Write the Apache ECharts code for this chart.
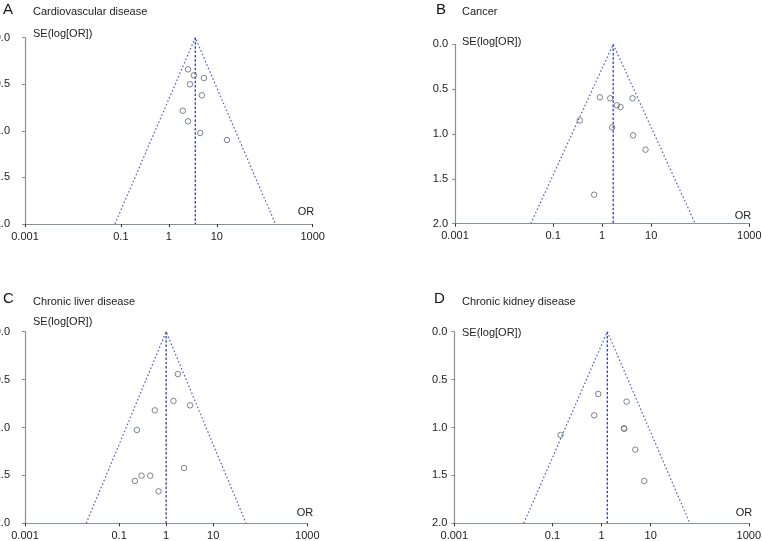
<!DOCTYPE html>
<html><head><meta charset="utf-8">
<script src="https://cdn.jsdelivr.net/npm/echarts@6/dist/echarts.min.js"></script>
<style>html,body{margin:0;padding:0;background:#fff}#c{width:762px;height:541px}</style>
</head><body><div id="c"></div>
<script>
// ---- data ----
const panelLetters = ['A', 'B', 'C', 'D'];
const panelTitles = ['Cardiovascular disease', 'Cancer', 'Chronic liver disease', 'Chronic kidney disease'];
const xTickValues = [0.001, 0.1, 1, 10, 1000];
const yTickValues = [0, 0.5, 1, 1.5, 2];

const orA = [2.51, 3.34, 5.37, 2.76, 4.89, 1.95, 2.51, 4.51, 16.3];
const seA = [0.34, 0.404, 0.433, 0.50, 0.619, 0.784, 0.898, 1.023, 1.098];

const orB = [0.90, 1.46, 4.16, 1.99, 2.37, 0.35, 1.60, 4.29, 7.66, 0.687];
const seB = [0.591, 0.602, 0.602, 0.680, 0.699, 0.848, 0.926, 1.015, 1.175, 1.677];

const orC = [1.77, 1.43, 3.22, 0.575, 0.239, 2.40, 0.30, 0.458, 0.217, 0.689];
const seC = [0.442, 0.723, 0.769, 0.821, 1.026, 1.423, 1.503, 1.503, 1.558, 1.666];

const orD = [0.855, 3.24, 0.708, 2.86, 2.90, 0.146, 4.87, 7.43];
const seD = [0.650, 0.730, 0.873, 1.009, 1.013, 1.078, 1.231, 1.558];

const pooledOR = [3.56, 1.68, 1.0, 1.31];
const funnelLow = [0.075, 0.035, 0.020, 0.026];
const funnelHigh = [167, 79, 50, 63];
const seMax = 2;

const orAll = [orA, orB, orC, orD];
const seAll = [seA, seB, seC, seD];

// ---- layout ----
const grids = [
  {left: 25, top: 37.7, width: 287.7, height: 186.3},
  {left: 455, top: 44.3, width: 294.3, height: 179.4},
  {left: 25, top: 331.7, width: 282.3, height: 191.6},
  {left: 454.3, top: 331.7, width: 294.5, height: 191.6}
];
const yLabelMargin = [15, 7, 15, 7];
const letterPos = [[3, 10], [436, 9.5], [3, 299.3], [434, 299.3]];
const titlePos = [[33, 11.7], [462, 11.7], [33, 302.3], [462, 302.3]];
const sePos = [[33, 34.3], [462, 41.7], [33, 321.7], [462, 332.7]];
const orPos = [[306, 212], [743, 216], [305, 513.3], [744, 513.3]];

const FONT = 'Liberation Sans, Arial, sans-serif';
const AXIS = '#86929a';
const TEXT = '#222';

const fmtX = v => String(Number(Number(v).toPrecision(6)));

const xAxis = grids.map((g, i) => ({
  type: 'log', logBase: 10, gridIndex: i, min: 0.001, max: 1000,
  axisLine: {onZero: false, lineStyle: {color: AXIS, width: 1.2}},
  axisTick: {show: true, length: 3, customValues: xTickValues, lineStyle: {color: '#333'}},
  axisLabel: {customValues: xTickValues, formatter: fmtX, color: TEXT, fontSize: 11, fontFamily: FONT, margin: 7},
  splitLine: {show: false}, minorTick: {show: false}
}));
const yAxis = grids.map((g, i) => ({
  type: 'value', gridIndex: i, min: 0, max: 2, interval: 0.5, inverse: true,
  axisLine: {show: true, onZero: false, lineStyle: {color: AXIS, width: 1.2}},
  axisTick: {show: true, length: 3, lineStyle: {color: AXIS}},
  axisLabel: {formatter: v => v.toFixed(1), color: TEXT, fontSize: 11, fontFamily: FONT, margin: yLabelMargin[i]},
  splitLine: {show: false}
}));

const series = [];
for (let i = 0; i < 4; i++) {
  series.push({
    type: 'line', xAxisIndex: i, yAxisIndex: i, symbol: 'none', silent: true,
    data: [[funnelLow[i], seMax], [pooledOR[i], 0], [funnelHigh[i], seMax]],
    lineStyle: {type: [1.6, 2.2], color: '#4f5fd0', width: 1.2}, z: 2
  });
  series.push({
    type: 'line', xAxisIndex: i, yAxisIndex: i, symbol: 'none', silent: true,
    data: [[pooledOR[i], 0], [pooledOR[i], seMax]],
    lineStyle: {type: [2.5, 1.8], color: '#2f3fb5', width: 1.3}, z: 2
  });
  series.push({
    type: 'scatter', xAxisIndex: i, yAxisIndex: i, symbol: 'circle', symbolSize: 5.5,
    data: orAll[i].map((v, j) => [v, seAll[i][j]]),
    itemStyle: {color: 'rgba(255,255,255,0)', borderColor: '#5c666e', borderWidth: 1}, z: 3
  });
}

const graphic = [];
for (let i = 0; i < 4; i++) {
  graphic.push({type: 'text', x: letterPos[i][0], y: letterPos[i][1],
    style: {text: panelLetters[i], font: '15px ' + FONT, fill: '#111', textVerticalAlign: 'middle', textAlign: 'left'}});
  graphic.push({type: 'text', x: titlePos[i][0], y: titlePos[i][1],
    style: {text: panelTitles[i], font: '11px ' + FONT, fill: TEXT, textVerticalAlign: 'middle', textAlign: 'left'}});
  graphic.push({type: 'text', x: sePos[i][0], y: sePos[i][1],
    style: {text: 'SE(log[OR])', font: '11px ' + FONT, fill: TEXT, textVerticalAlign: 'middle', textAlign: 'left'}});
  graphic.push({type: 'text', x: orPos[i][0], y: orPos[i][1],
    style: {text: 'OR', font: '11px ' + FONT, fill: TEXT, textVerticalAlign: 'middle', textAlign: 'center'}});
}

const chart = echarts.init(document.getElementById('c'), null, {renderer: 'canvas'});
chart.setOption({
  animation: false,
  backgroundColor: '#fff',
  grid: grids.map(g => Object.assign({containLabel: false, outerBoundsMode: 'none'}, g)),
  xAxis, yAxis, series, graphic
});
</script></body></html>
